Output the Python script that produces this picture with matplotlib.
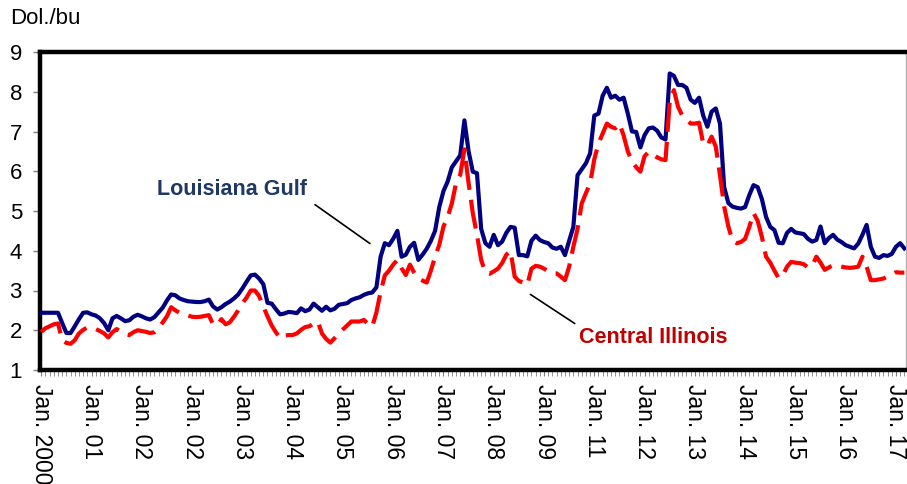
"""Louisiana Gulf vs Central Illinois monthly price chart (Dol./bu)."""

import numpy as np
import matplotlib

matplotlib.use("Agg")
import matplotlib.pyplot as plt

plt.rcParams["font.family"] = ["Liberation Sans", "DejaVu Sans"]

# monthly prices, Jan. 2000 onward
gulf = [
    2.44, 2.44, 2.44, 2.44, 2.44, 2.18, 1.93, 1.93, 2.10, 2.28, 2.44, 2.45,
    2.40, 2.37, 2.30, 2.18, 2.00, 2.30, 2.36, 2.30, 2.23, 2.25, 2.34, 2.39,
    2.35, 2.30, 2.27, 2.33, 2.45, 2.57, 2.75, 2.90, 2.88, 2.80, 2.76, 2.73,
    2.72, 2.71, 2.71, 2.73, 2.77, 2.60, 2.52, 2.58, 2.66, 2.72, 2.80, 2.90,
    3.05, 3.22, 3.38, 3.40, 3.30, 3.16, 2.69, 2.67, 2.53, 2.40, 2.42, 2.46,
    2.45, 2.43, 2.55, 2.48, 2.52, 2.67, 2.58, 2.49, 2.59, 2.50, 2.54, 2.64,
    2.66, 2.68, 2.76, 2.80, 2.83, 2.89, 2.93, 2.95, 3.08, 3.85, 4.19, 4.14,
    4.30, 4.50, 3.85, 3.90, 4.10, 4.20, 3.77, 3.90, 4.05, 4.25, 4.50, 5.10,
    5.50, 5.74, 6.10, 6.25, 6.40, 7.28, 6.50, 5.99, 5.95, 4.55, 4.19, 4.10,
    4.40, 4.14, 4.23, 4.45, 4.60, 4.58, 3.89, 3.89, 3.86, 4.25, 4.38, 4.27,
    4.22, 4.19, 4.08, 4.05, 4.10, 3.89, 4.25, 4.60, 5.90, 6.05, 6.20, 6.45,
    7.40, 7.45, 7.90, 8.10, 7.85, 7.90, 7.80, 7.85, 7.45, 7.00, 6.99, 6.60,
    6.91, 7.08, 7.10, 7.02, 6.85, 6.80, 8.46, 8.40, 8.17, 8.17, 8.10, 7.80,
    7.72, 7.85, 7.40, 7.12, 7.50, 7.58, 7.20, 5.60, 5.20, 5.11, 5.08, 5.06,
    5.10, 5.40, 5.65, 5.60, 5.30, 4.85, 4.60, 4.52, 4.20, 4.19, 4.45, 4.55,
    4.46, 4.44, 4.42, 4.30, 4.23, 4.27, 4.61, 4.19, 4.32, 4.40, 4.28, 4.22,
    4.14, 4.10, 4.06, 4.18, 4.40, 4.65, 4.10, 3.85, 3.82, 3.89, 3.87, 3.92,
    4.10, 4.19, 4.06,
]
illinois = [
    1.96, 2.05, 2.10, 2.15, 2.17, 1.75, 1.68, 1.66, 1.75, 1.92, 2.01, 2.07,
    2.06, 2.03, 1.98, 1.92, 1.82, 1.95, 2.03, 1.97, 1.90, 1.88, 1.95, 2.00,
    1.98, 1.96, 1.93, 1.95, 2.05, 2.20, 2.35, 2.58, 2.50, 2.44, 2.40, 2.37,
    2.34, 2.33, 2.34, 2.36, 2.38, 2.15, 2.13, 2.28, 2.15, 2.20, 2.34, 2.50,
    2.68, 2.82, 3.00, 3.00, 2.86, 2.60, 2.35, 2.12, 1.95, 1.80, 1.86, 1.88,
    1.88, 1.92, 2.01, 2.08, 2.10, 2.17, 2.22, 1.92, 1.78, 1.69, 1.80, 1.92,
    2.02, 2.12, 2.22, 2.22, 2.22, 2.26, 2.16, 2.09, 2.45, 2.97, 3.38, 3.50,
    3.65, 3.77, 3.56, 3.39, 3.65, 3.45, 3.30, 3.25, 3.20, 3.50, 3.85, 4.15,
    4.61, 4.85, 5.19, 5.70, 5.91, 6.55, 5.70, 4.95, 4.40, 3.77, 3.45, 3.42,
    3.48, 3.55, 3.69, 3.90, 4.00, 3.35, 3.24, 3.20, 3.14, 3.55, 3.62, 3.60,
    3.55, 3.48, 3.43, 3.43, 3.35, 3.26, 3.60, 4.10, 4.55, 5.19, 5.45, 5.69,
    6.30, 6.70, 6.95, 7.20, 7.12, 7.08, 7.20, 6.90, 6.50, 6.25, 6.10, 5.99,
    6.38, 6.49, 6.42, 6.35, 6.30, 6.28, 7.75, 8.04, 7.62, 7.40, 7.30, 7.20,
    7.20, 7.22, 6.70, 6.65, 6.87, 6.62, 5.90, 5.11, 4.61, 4.25, 4.19, 4.22,
    4.30, 4.60, 4.95, 4.75, 4.35, 3.85, 3.70, 3.50, 3.31, 3.38, 3.60, 3.72,
    3.70, 3.69, 3.66, 3.58, 3.62, 3.85, 3.70, 3.52, 3.58, 3.64, 3.62, 3.60,
    3.58, 3.57, 3.58, 3.60, 3.85, 3.60, 3.26, 3.26, 3.28, 3.30, 3.35, 3.40,
    3.46, 3.45, 3.45,
]
# labels exactly as printed on the source chart (repeated 02, no 10)
tick_labels = [
    "Jan. 2000", "Jan. 01", "Jan. 02", "Jan. 02", "Jan. 03", "Jan. 04",
    "Jan. 05", "Jan. 06", "Jan. 07", "Jan. 08", "Jan. 09", "Jan. 11",
    "Jan. 12", "Jan. 13", "Jan. 14", "Jan. 15", "Jan. 16", "Jan. 17",
]
y_ticks = [1, 2, 3, 4, 5, 6, 7, 8, 9]

W, H = 907, 484
fig = plt.figure(figsize=(W / 100, H / 100), dpi=100)
ax = fig.add_axes([40 / W, 1 - 370 / H, 866 / W, 318 / H])

months = np.arange(len(gulf))
ax.plot(months, gulf, color="#000080", lw=3, solid_joinstyle="round", zorder=3)
ax.plot(months, illinois, color="#FF0000", lw=3, dashes=(7, 2.4), zorder=4)

ax.set_xlim(-0.3, len(gulf) - 0.6)
ax.set_ylim(1, 9)
ax.set_yticks(y_ticks)
ax.set_xticks(np.arange(len(tick_labels)) * 12)
ax.set_xticklabels(tick_labels, rotation=270, ha="center", va="top")
ax.set_xticks(months, minor=True)

ax.tick_params(axis="y", direction="out", length=5, width=1, color="#808080",
               labelsize=16, pad=8)
ax.tick_params(axis="x", which="major", direction="out", length=4, width=0.8,
               color="#808080", labelsize=16.5, pad=6)
ax.tick_params(axis="x", which="minor", direction="out", length=4, width=0.6,
               color="#808080")

for side in ("left", "bottom", "top"):
    ax.spines[side].set_linewidth(3.2)
    ax.spines[side].set_color("black")
ax.spines["right"].set_linewidth(1)
ax.spines["right"].set_color("#B0B0B0")

fig.text(10 / W, 1 - 18 / H, "Dol./bu", fontsize=16, ha="left", va="center")

# callouts
ax.text(45.5, 5.53, "Louisiana Gulf", color="#1F3864", fontsize=15.5,
        fontweight="bold", ha="center", va="center")
ax.annotate("", xy=(79.0, 4.14), xytext=(64.8, 5.20),
            arrowprops=dict(arrowstyle="-", color="black", lw=1.2))
ax.text(146, 1.81, "Central Illinois", color="#C00000", fontsize=15.5,
        fontweight="bold", ha="center", va="center")
ax.annotate("", xy=(127.9, 2.13), xytext=(116.2, 2.94),
            arrowprops=dict(arrowstyle="-", color="black", lw=1.2))

fig.savefig("out.png", dpi=100)
